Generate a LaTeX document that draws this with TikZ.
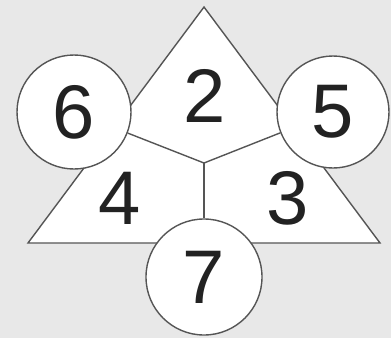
\documentclass[tikz,border=0pt]{standalone}
\usepackage{fontspec}
\setmainfont{Liberation Sans}
\definecolor{bggray}{HTML}{E8E8E8}
\definecolor{linegray}{HTML}{555555}
\definecolor{digit}{HTML}{222222}
\tikzset{
  ring/.style={circle, draw=linegray, line width=1.4pt, fill=white, inner sep=0pt, font=\fontsize{76}{76}\selectfont, text=digit},
  edge/.style={draw=linegray, line width=1.4pt},
  lab/.style={font=\fontsize{76}{76}\selectfont, text=digit, inner sep=0pt}
}
\begin{document}
\begin{tikzpicture}[x=1pt,y=-1pt]
  \fill[bggray] (0,0) rectangle (391,338);
  \useasboundingbox (0,0) rectangle (391,338);
  \coordinate (A) at (204,7);
  \coordinate (B) at (28,243);
  \coordinate (C) at (380,243);
  \coordinate (m) at (204,163);
  \filldraw[edge, fill=white] (A) -- (B) -- (C) -- cycle;
  \node[ring, minimum size=114pt] (c6) at (74,112) {6};
  \node[ring, minimum size=112pt] (c5) at (333,112) {5};
  \node[ring, minimum size=116pt] (c7) at (204,277) {7};
  \draw[edge] (m) -- (c6);
  \draw[edge] (m) -- (c5);
  \draw[edge] (m) -- (c7);
  \node[lab] (l2) at (205,96) {2};
  \node[lab] (l4) at (120,198) {4};
  \node[lab] (l3) at (288,198) {3};
\end{tikzpicture}
\end{document}
